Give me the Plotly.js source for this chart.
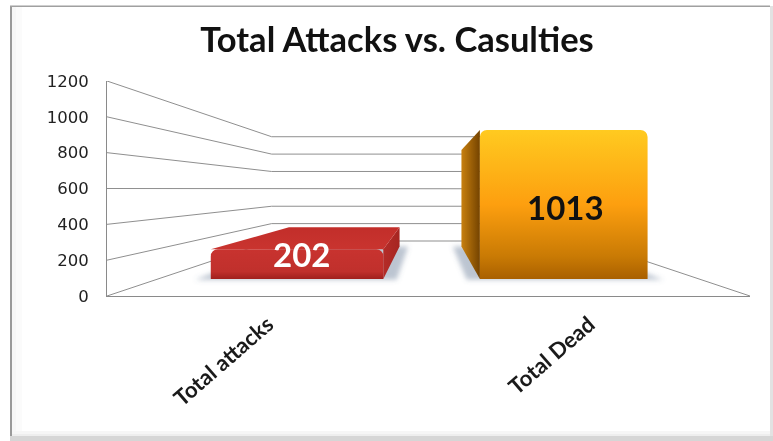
<!DOCTYPE html>
<html>
<head>
<meta charset="utf-8">
<script src="https://cdn.plot.ly/plotly-3.0.1.min.js"></script>
<style>html,body{margin:0;padding:0;background:#fff}#chart{width:773px;height:441px;filter:blur(0.4px)}</style>
</head>
<body>
<div id="chart"></div>
<script>
const chartTitle = 'Total Attacks vs. Casulties';
const categories = ['Total attacks', 'Total Dead'];
const values = [202, 1013];
const yTicks = [0, 200, 400, 600, 800, 1000, 1200];
const valueColors = ['#ffffff', '#111111'];

// Oblique projection of the Excel-style 3D box onto the axes
const FLOOR_RISE = 307, X_SHRINK = 0.512, Y_SHRINK = 0.515;
const T_FRONT = 0.31, T_BACK = 0.9;
const BAR_WIDTHS = [0.638, 0.62], BAR_OFFSETS = [-0.305, -0.31];
const yScaleAt = t => 1 - Y_SHRINK * Math.pow(t, 0.9);
const project = (x, v, t) => [0.5 + (x - 0.5) * (1 - X_SHRINK * t), FLOOR_RISE * t + v * yScaleAt(t)];
const xLeft = -0.5, xRight = 1.5, yMax = 1200;
const barLeft = i => i + BAR_OFFSETS[i], barRight = i => barLeft(i) + BAR_WIDTHS[i];

const poly = pts => ({ x: pts.map(p => p[0]), y: pts.map(p => p[1]) });
const GRID = '#8f8f8f';
const line = pts => Object.assign(poly(pts), { type: 'scatter', mode: 'lines', line: { color: GRID, width: 1 }, cliponaxis: false, hoverinfo: 'skip', showlegend: false });
const face = (pts, colors, dir) => Object.assign(poly(pts.concat([pts[0]])), {
  type: 'scatter', mode: 'lines', line: { width: 0 }, fill: 'toself', hoverinfo: 'skip', showlegend: false, cliponaxis: false,
  fillcolor: colors[0],
  fillgradient: { type: dir, colorscale: [[0, colors[0]], [1, colors[1]]] }
});
const shadow = pts => Object.assign(poly(pts.concat([pts[0]])), {
  type: 'scatter', mode: 'lines', line: { width: 0 }, fill: 'toself', fillcolor: 'rgba(90,110,140,0.4)', hoverinfo: 'skip', showlegend: false, cliponaxis: false
});

const traces = [];
// side wall + back wall lines
yTicks.forEach(v => {
  traces.push(line([project(xLeft, v, 0), project(xLeft, v, 1), project(xRight, v, 1)]));
});
// right floor edge
traces.push(line([project(xRight, 0, 0), project(xRight, 0, 1)]));

// floor shadows
values.forEach((v, i) => {
  const l = barLeft(i), r = barRight(i);
  traces.push(shadow([project(l - 0.05, 0, T_FRONT - 0.015), project(r + 0.05, 0, T_FRONT - 0.015), project(r + 0.05, 0, T_BACK), project(l - 0.05, 0, T_BACK)]));
});

// red box: top + right side
(function () {
  const i = 0, v = values[i], l = barLeft(i), r = barRight(i);
  traces.push(face([project(r, 0, T_FRONT), project(r, 0, T_BACK), project(r, v, T_BACK), project(r, v, T_FRONT)], ['#b42c28', '#a62521'], 'horizontal'));
  traces.push(face([project(l, v, T_FRONT), project(r, v, T_FRONT), project(r, v, T_BACK), project(l, v, T_BACK)], ['#c9342f', '#c22e2a'], 'vertical'));
})();
// orange box: left side
(function () {
  const i = 1, v = values[i], l = barLeft(i);
  traces.push(face([project(l, 0, T_FRONT), project(l, 0, T_BACK), project(l, v, T_BACK), project(l, v, T_FRONT)], ['#c8800f', '#744300'], 'horizontal'));
})();

// front faces, on an overlay axis pair scaled for the front plane of the boxes
const sF = 1 - X_SHRINK * T_FRONT, kF = yScaleAt(T_FRONT), y0F = FLOOR_RISE * T_FRONT;
const x2Range = [0.5 + (xLeft - 0.5) / sF, 0.5 + (xRight - 0.5) / sF];
const y2Range = [(0 - y0F) / kF, (yMax - y0F) / kF];
traces.push({
  type: 'bar', x: categories, y: values, width: BAR_WIDTHS, offset: BAR_OFFSETS, xaxis: 'x2', yaxis: 'y2',
  marker: { color: ['#c0302c', '#f59a10'], line: { width: 0 } }, hoverinfo: 'x+y', showlegend: false
});

const labelY = [values[0] * 0.84, values[1] * 0.485];
const labelShift = [8, 2];

const PW = 773, PH = 441, M = { l: 107, r: 23, t: 81, b: 145 };
const W = PW - M.l - M.r, H = PH - M.t - M.b;
const px = x => (x - M.l) / W, py = y => (PH - M.b - y) / H;
const band = (x0, x1, y0, y1, c) => ({ type: 'rect', xref: 'paper', yref: 'paper', x0: px(x0), x1: px(x1), y0: py(y0), y1: py(y1), line: { width: 0 }, fillcolor: c, layer: 'below' });

const layout = {
  width: PW, height: PH, margin: M, paper_bgcolor: '#ffffff', plot_bgcolor: 'rgba(0,0,0,0)', showlegend: false,
  barcornerradius: 7,
  title: { text: chartTitle, x: 397 / PW, xanchor: 'center', y: 1 - 40 / PH, yanchor: 'middle', font: { family: 'Lato', size: 34.5, weight: 700, color: '#111' } },
  xaxis: {
    type: 'linear', range: [xLeft, xRight], tickmode: 'array', tickvals: categories.map((c, i) => i), ticktext: categories,
    tickangle: -41, tickfont: { family: 'Lato', size: 22, weight: 700, color: '#1a1a1a' }, showgrid: false, zeroline: false,
    showline: true, linecolor: '#8a8a8a', linewidth: 1, ticks: '', ticklen: 0, ticklabelstandoff: 6
  },
  yaxis: {
    range: [0, yMax], tickmode: 'array', tickvals: yTicks, showgrid: false, zeroline: false,
    showline: true, linecolor: '#8a8a8a', linewidth: 1, ticks: '', ticklabelstandoff: 14,
    tickfont: { family: 'DejaVu Sans', size: 16.5, color: '#222' }
  },
  xaxis2: { type: 'category', overlaying: 'x', anchor: 'y2', range: x2Range, visible: false, fixedrange: true },
  yaxis2: { overlaying: 'y', anchor: 'x2', range: y2Range, visible: false, fixedrange: true },
  annotations: values.map((v, i) => ({
    xref: 'x2', yref: 'y2', x: categories[i], y: labelY[i], xshift: labelShift[i], text: String(v), showarrow: false,
    font: { family: 'Lato', size: 33, weight: 700, color: valueColors[i] }
  })),
  shapes: [
    band(12, 22, 7, 436, '#fbfbfb'),
    band(12, 16, 7, 436, '#f7f7f7'),
    band(12, 770, 431, 436, '#f6f6f6'),
    band(12, 770, 434, 436, '#eeeeee'),
    band(10, 12, 6, 438, '#9a9a9a'),
    band(10, 770, 5.5, 7, '#a0a0a0'),
    band(770, 773, 6, 441, '#e2e2e2'),
    band(10, 773, 436, 441, '#d6d6d6')
  ]
};

const gd = document.getElementById('chart');
Plotly.newPlot(gd, traces, layout, { displayModeBar: false, staticPlot: true }).then(() => {
  const NS = 'http://www.w3.org/2000/svg';
  const defs = gd.querySelector('.main-svg defs');
  const addGrad = (id, stops) => {
    const g = document.createElementNS(NS, 'linearGradient');
    g.setAttribute('id', id); g.setAttribute('x1', '0'); g.setAttribute('y1', '0'); g.setAttribute('x2', '0'); g.setAttribute('y2', '1');
    stops.forEach(s => {
      const e = document.createElementNS(NS, 'stop');
      e.setAttribute('offset', s[0]); e.setAttribute('stop-color', s[1]); g.appendChild(e);
    });
    defs.appendChild(g);
  };
  addGrad('barGrad0', [[0, '#c8332f'], [0.75, '#c0302c'], [1, '#a0201d']]);
  addGrad('barGrad1', [[0, '#ffca20'], [0.5, '#fd9f0f'], [0.85, '#c97a04'], [1, '#a96000']]);
  gd.querySelectorAll('.barlayer .point path').forEach((p, i) => { p.style.fill = 'url(#barGrad' + i + ')'; });
  const f = document.createElementNS(NS, 'filter');
  f.setAttribute('id', 'softShadow'); f.setAttribute('x', '-20%'); f.setAttribute('y', '-20%'); f.setAttribute('width', '140%'); f.setAttribute('height', '140%');
  const b = document.createElementNS(NS, 'feGaussianBlur'); b.setAttribute('stdDeviation', '2.5'); f.appendChild(b);
  defs.appendChild(f);
  gd.querySelectorAll('.scatterlayer .js-fill').forEach(p => {
    if ((p.style.fill || '').indexOf('90, 110, 140') >= 0) p.setAttribute('filter', 'url(#softShadow)');
  });
});
</script>
</body>
</html>
